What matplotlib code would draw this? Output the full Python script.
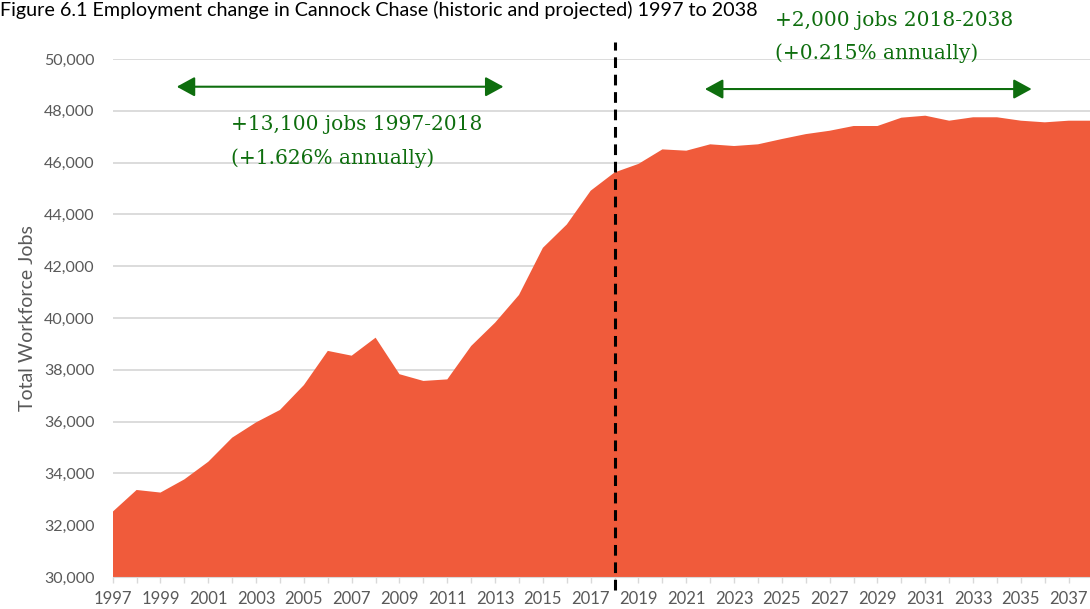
import matplotlib
matplotlib.use("Agg")
import matplotlib.pyplot as plt
from matplotlib.ticker import FuncFormatter, MultipleLocator

years = list(range(1997, 2039))
jobs = [32520, 33360, 33260, 33770, 34450, 35380, 35970, 36450, 37410, 38730,
        38545, 39240, 37830, 37570, 37630, 38920, 39820, 40890, 42710, 43610,
        44915, 45620, 45950, 46510, 46460, 46706, 46640, 46706, 46910, 47100,
        47230, 47413, 47413, 47734, 47811, 47618, 47750, 47750, 47618, 47555,
        47618, 47618]
split_year = 2018
title = "Figure 6.1 Employment change in Cannock Chase (historic and projected) 1997 to 2038"
hist_note = ["+13,100 jobs 1997-2018", "(+1.626% annually)"]
proj_note = ["+2,000 jobs 2018-2038", "(+0.215% annually)"]

fill_col = "#f05b3b"
green = "#0e6e0e"
grey_txt = "#595959"
grid_col = "#d9d9d9"
sans = ["Lato", "DejaVu Sans"]
serif = ["DejaVu Serif"]

W, H = 1090, 609
fig = plt.figure(figsize=(W / 100, H / 100), dpi=100)
# plot area: 1997 at x=112.7px, 23.9px per year; 30000 at y=577px, 50000 at y=59px
left = 112.7 / W
width = 41 * 23.9 / W
bottom = 1 - 577 / H
height = (577 - 59) / H
ax = fig.add_axes([left, bottom, width, height])

ax.fill_between(years, jobs, 0, color=fill_col, lw=0, zorder=2)
ax.set_xlim(1997, 2038)
ax.set_ylim(30000, 50000)

ax.yaxis.set_major_locator(MultipleLocator(2000))
ax.yaxis.set_major_formatter(FuncFormatter(lambda v, p: f"{int(v):,}"))
ax.grid(axis="y", color=grid_col, lw=1.3, zorder=1)
ax.tick_params(axis="y", length=0, pad=13, labelsize=11.5, labelcolor=grey_txt)

ax.set_xticks([y for y in years if y % 2 == 1])
ax.set_xticks([y for y in years if y % 2 == 0], minor=True)
ax.tick_params(axis="x", which="both", length=4, color=grid_col, width=1,
               labelsize=12, labelcolor=grey_txt, pad=6)
for lab in ax.get_xticklabels() + ax.get_yticklabels():
    lab.set_family(sans)

for s in ["top", "right", "left"]:
    ax.spines[s].set_visible(False)
ax.spines["bottom"].set_color(grid_col)
ax.spines["bottom"].set_zorder(3)

ax.set_ylabel("Total Workforce Jobs", family=sans, fontsize=14, color=grey_txt, labelpad=6)

# dashed line marking the start of the projection
ax.plot([split_year, split_year], [29500, 50650], color="black", lw=2.2,
        ls=(0, (3.5, 2.2)), clip_on=False, zorder=4)

# range arrows
arrow = dict(arrowstyle="<|-|>,head_length=1.1,head_width=0.6", color=green,
             lw=1.5, shrinkA=0, shrinkB=0, mutation_scale=10)
ax.annotate("", xy=(2013.35, 48930), xytext=(1999.68, 48930), arrowprops=arrow,
            annotation_clip=False)
ax.annotate("", xy=(2035.45, 48840), xytext=(2021.78, 48840), arrowprops=arrow,
            annotation_clip=False)

note_size = 14.5
fig.text(231 / W, 1 - 125 / H, hist_note[0], family=serif, fontsize=note_size, color=green, va="center")
fig.text(231 / W, 1 - 158 / H, hist_note[1], family=serif, fontsize=note_size, color=green, va="center")
fig.text(775 / W, 1 - 20 / H, proj_note[0], family=serif, fontsize=note_size, color=green, va="center")
fig.text(775 / W, 1 - 53 / H, proj_note[1], family=serif, fontsize=note_size, color=green, va="center")

fig.text(0, 1 - 1 / H, title, family=sans, fontsize=14.2, color="black", va="top")

fig.savefig("out.png", dpi=100)
